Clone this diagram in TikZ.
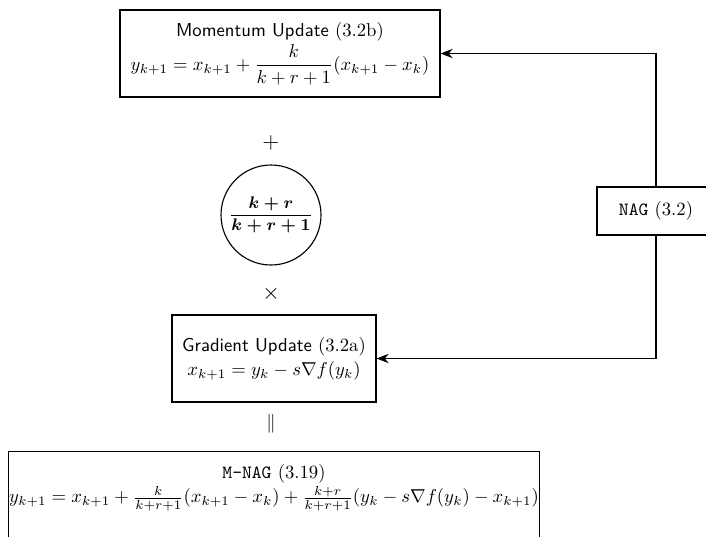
\documentclass[tikz,border=0pt]{standalone}
\usepackage{amsmath,bm}
\usetikzlibrary{arrows.meta}
\newcommand\pxu{0.535pt}
\tikzset{
  box/.style={draw, rectangle, align=center, inner sep=0pt, line width=0.6pt},
  op/.style={inner sep=0pt, font=\fontsize{13}{13}\selectfont},
  link/.style={draw, line width=0.7pt, -{Stealth[length=6.5pt,width=5pt]}},
}
\begin{document}
\begin{tikzpicture}[x=\pxu, y=-\pxu]
\useasboundingbox (0,0) rectangle (706,536);
% momentum step
\node[box, minimum width={320*\pxu}, minimum height={87*\pxu}] (mom) at (280,53.5)
  {\textsf{Momentum Update} (3.2b)\\[1pt]
   $\displaystyle y_{k+1}=x_{k+1}+\frac{k}{k+r+1}(x_{k+1}-x_k)$};
\node[op] (plus) at (271,143) {$+$};
% weight of the combination
\node[draw, circle, line width=0.6pt, minimum size={100*\pxu}, inner sep=0pt, font=\small] (w) at (271,215)
  {$\displaystyle\bm{\frac{k+r}{k+r+1}}$};
\node[op] (times) at (271,294) {$\times$};
% gradient step
\node[box, minimum width={204*\pxu}, minimum height={87*\pxu}] (grad) at (274,358.5)
  {\textsf{Gradient Update} (3.2a)\\[1pt]
   $x_{k+1}=y_k-s\nabla f(y_k)$};
\node[inner sep=0pt] (eq) at (271,424) {$\|$};
% combined scheme, running past the lower edge
\node[box, anchor=north, minimum width={531*\pxu}, text height={51*\pxu}, text depth={80*\pxu}] (mnag) at (274,451)
  {\texttt{M-NAG} (3.19)\\[1pt]
   $y_{k+1}=x_{k+1}+\frac{k}{k+r+1}(x_{k+1}-x_k)+\frac{k+r}{k+r+1}(y_k-s\nabla f(y_k)-x_{k+1})$};
% the original method splits into the two steps
\node[box, minimum width={118*\pxu}, minimum height={48*\pxu}] (nag) at (656,211)
  {\texttt{NAG} (3.2)};
\draw[link] (nag.north) |- (mom.east);
\draw[link] (nag.south) |- (grad.east);
\end{tikzpicture}
\end{document}
